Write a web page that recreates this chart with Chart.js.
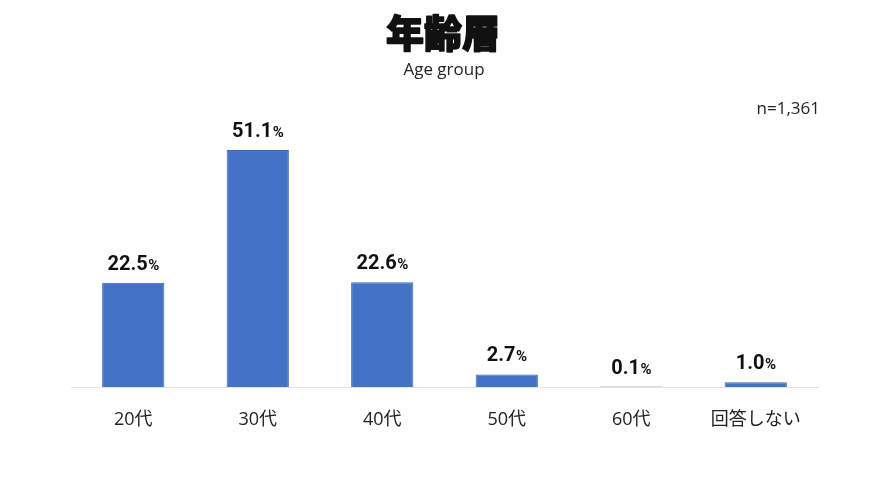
<!DOCTYPE html>
<html><head><meta charset="utf-8">
<script src="https://cdn.jsdelivr.net/npm/chart.js@4.4.1/dist/chart.umd.min.js"></script>
<style>html,body{margin:0;padding:0;background:#fff}#wrap{width:889px;height:500px}</style>
</head><body><div id="wrap"><canvas id="c" width="889" height="500"></canvas></div>
<script>
const categories = ['20代','30代','40代','50代','60代','回答しない'];
const values = [22.5, 51.1, 22.6, 2.7, 0.1, 1.0];
const titleText = '年齢層';
const subtitleText = 'Age group';
const sampleText = 'n=1,361';

const CJK = '"Noto Sans CJK JP", "Noto Sans", sans-serif';
const LAT = '"Open Sans", "Noto Sans CJK JP", sans-serif';
const NUM = 'Roboto, "Noto Sans", sans-serif';

const overlay = {
  id: 'overlay',
  afterDraw(chart) {
    const ctx = chart.ctx;
    ctx.save();
    ctx.fillStyle = '#111';
    ctx.strokeStyle = '#111';
    ctx.textAlign = 'center';
    ctx.textBaseline = 'middle';
    ctx.font = '900 38px ' + CJK;
    ctx.lineWidth = 1.6;
    ctx.lineJoin = 'round';
    ctx.fillText(titleText, 443, 33);
    ctx.strokeText(titleText, 443, 33);
    ctx.font = '400 17px ' + LAT;
    ctx.fillStyle = '#222';
    ctx.fillText(subtitleText, 444, 70);
    ctx.textAlign = 'right';
    ctx.font = '400 17px ' + LAT;
    ctx.fillText(sampleText, 820, 109);
    // value labels
    const meta = chart.getDatasetMeta(0);
    ctx.textBaseline = 'alphabetic';
    meta.data.forEach((bar, i) => {
      const num = values[i].toFixed(1);
      ctx.font = '700 20px ' + NUM;
      const w1 = ctx.measureText(num).width;
      ctx.font = '700 15px ' + NUM;
      const w2 = ctx.measureText('%').width;
      const x0 = bar.x - (w1 + w2) / 2;
      const y = bar.y - 13;
      ctx.fillStyle = '#111';
      ctx.textAlign = 'left';
      ctx.font = '700 20px ' + NUM;
      ctx.fillText(num, x0, y);
      ctx.font = '700 15px ' + NUM;
      ctx.fillText('%', x0 + w1 + 0.5, y);
    });
    ctx.restore();
  }
};

new Chart(document.getElementById('c'), {
  type: 'bar',
  data: {
    labels: categories,
    datasets: [{
      data: values,
      backgroundColor: '#4472C4',
      borderColor: '#3C68C0',
      borderWidth: 1,
      barPercentage: 0.5,
      categoryPercentage: 1.0
    }]
  },
  options: {
    responsive: false,
    animation: false,
    layout: { padding: { top: 108.7, bottom: 71, left: 71, right: 71 } },
    plugins: { legend: { display: false }, tooltip: { enabled: false }, title: { display: false } },
    scales: {
      x: {
        grid: { display: false, drawTicks: false },
        border: { display: true, color: '#e3e3e3', width: 1 },
        ticks: { color: '#222', font: { family: LAT, size: 18 }, padding: 22, maxRotation: 0 },
        afterFit(s) { s.height = 42; }
      },
      y: { display: false, min: 0, max: 60 }
    }
  },
  plugins: [overlay]
});
</script></body></html>
